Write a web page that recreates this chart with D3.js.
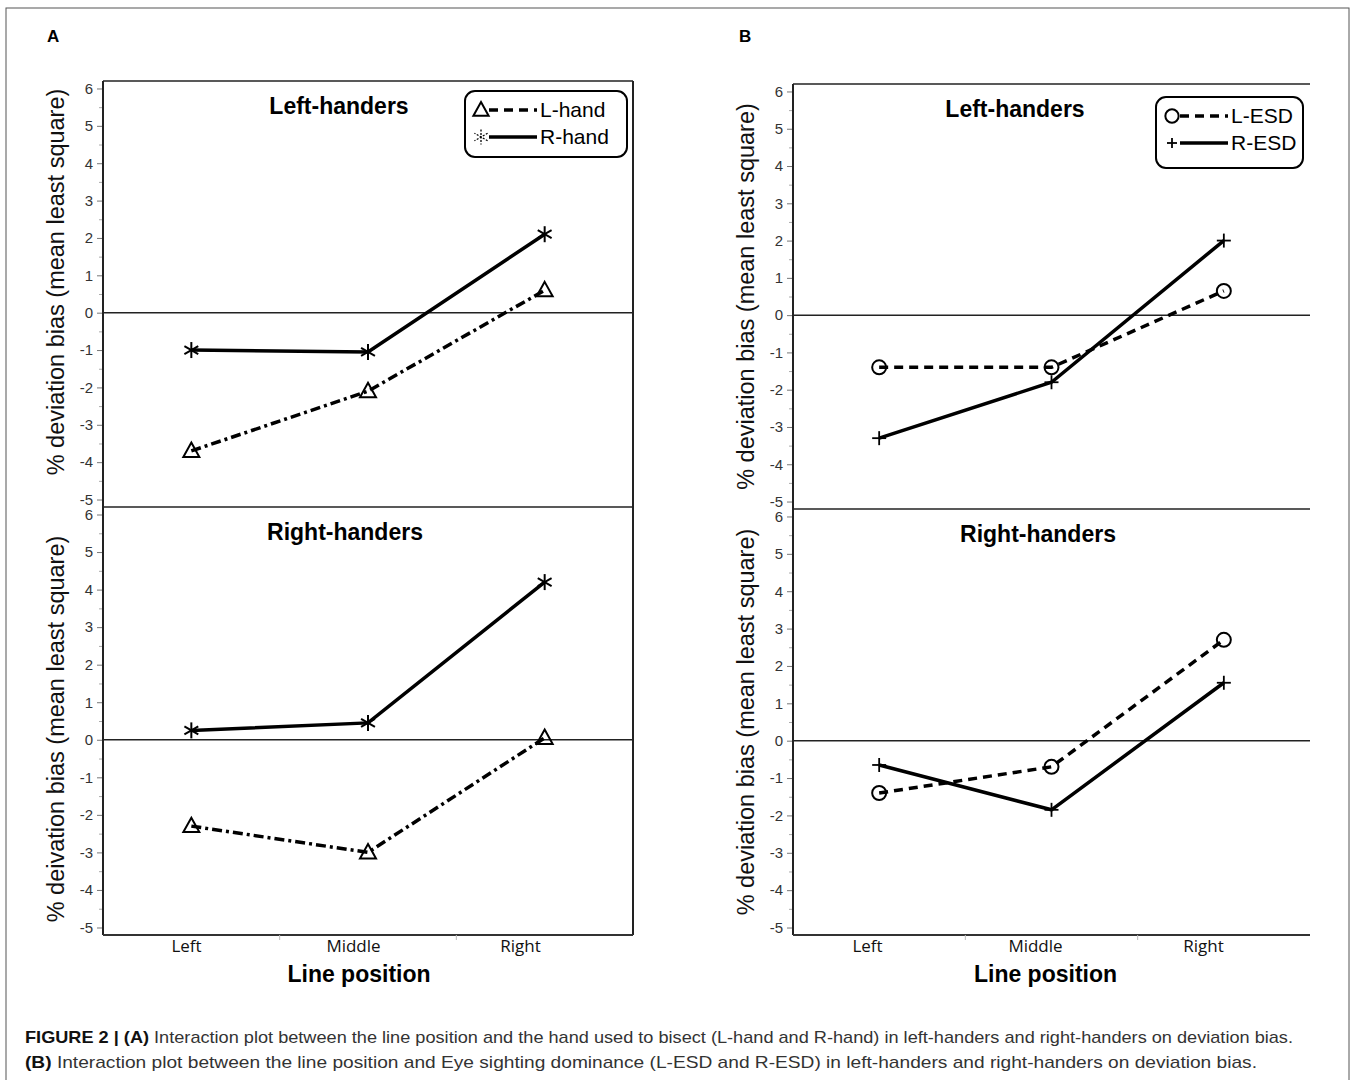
<!DOCTYPE html>
<html>
<head>
<meta charset="utf-8">
<script src="https://cdn.jsdelivr.net/npm/d3@7"></script>
<style>
  body { margin: 0; background: #fff; }
  svg { display: block; font-family: "Liberation Sans", Arial, sans-serif; }
</style>
</head>
<body>
<div id="chart"></div>
<script>
// categories and ticks
const positions = ["Left", "Middle", "Right"];
const yTicks = [-5, -4, -3, -2, -1, 0, 1, 2, 3, 4, 5, 6];
const yMinor = [-4.5, -3.5, -2.5, -1.5, -0.5, 0.5, 1.5, 2.5, 3.5, 4.5, 5.5];

// panel A : hand used to bisect
const aLeftHandersLHand = [-3.7, -2.1, 0.6];
const aLeftHandersRHand = [-1.0, -1.05, 2.1];
const aRightHandersLHand = [-2.3, -3.0, 0.05];
const aRightHandersRHand = [0.25, 0.45, 4.2];

// panel B : eye sighting dominance
const bLeftHandersLESD = [-1.4, -1.4, 0.65];
const bLeftHandersRESD = [-3.3, -1.8, 2.0];
const bRightHandersLESD = [-1.4, -0.7, 2.7];
const bRightHandersRESD = [-0.65, -1.85, 1.55];

const W = 1355, H = 1080;
const svg = d3.select("#chart").append("svg").attr("width", W).attr("height", H);

// outer frame
svg.append("rect").attr("x", 6).attr("y", 8).attr("width", 1343).attr("height", 1090)
  .attr("fill", "none").attr("stroke", "#555").attr("stroke-width", 1);

svg.append("text").text("A").attr("x", 47).attr("y", 42)
  .style("font-weight", "bold").style("font-size", "17px");
svg.append("text").text("B").attr("x", 739).attr("y", 42)
  .style("font-weight", "bold").style("font-size", "17px");

// marker drawing
function drawMarker(g, type, cx, cy, small) {
  const s = small ? 0.95 : 1;
  if (type == "triangle") {
    const r = 8 * s;
    g.append("path")
      .attr("d", `M${cx},${cy - r * 1.05}L${cx + r},${cy + r * 0.75}L${cx - r},${cy + r * 0.75}Z`)
      .attr("fill", "none").attr("stroke", "#000").attr("stroke-width", 2);
  } else if (type == "asterisk") {
    const r = 8 * s;
    for (let k = 0; k < 3; k++) {
      const a = Math.PI / 2 + k * Math.PI / 3;
      g.append("line")
        .attr("x1", cx - r * Math.cos(a)).attr("y1", cy - r * Math.sin(a))
        .attr("x2", cx + r * Math.cos(a)).attr("y2", cy + r * Math.sin(a))
        .attr("stroke", "#000").attr("stroke-width", small ? 1.3 : 2)
        .style("stroke-dasharray", small ? "2,1.5" : null);
    }
  } else if (type == "circle") {
    g.append("circle").attr("cx", cx).attr("cy", cy).attr("r", 7 * s)
      .attr("fill", "none").attr("stroke", "#000").attr("stroke-width", 2);
  } else if (type == "plus") {
    const r = (small ? 5 : 7);
    g.append("line").attr("x1", cx - r).attr("y1", cy).attr("x2", cx + r).attr("y2", cy)
      .attr("stroke", "#000").attr("stroke-width", 1.8);
    g.append("line").attr("x1", cx).attr("y1", cy - r).attr("x2", cx).attr("y2", cy + r)
      .attr("stroke", "#000").attr("stroke-width", 1.8);
  }
}

// one sub panel (left-handers or right-handers)
function drawPanel(p) {
  const g = svg.append("g");
  const x = d3.scaleBand().domain(positions).range([p.left, p.right]);
  const y = d3.scaleLinear().domain([-5.2, 6.2]).range([p.bottom, p.top]);

  // axes
  const ax = g.append("g").attr("transform", `translate(${p.left},0)`)
    .call(d3.axisLeft(y).tickValues(yTicks).tickSize(6).tickPadding(4).tickFormat(d => String(d)));
  ax.select(".domain").remove();
  ax.selectAll(".tick line").attr("stroke", "#777");
  ax.selectAll(".tick text").attr("fill", "#333")
    .style("font-size", "15px").style("font-family", "'Liberation Sans', Arial, sans-serif");
  const am = g.append("g").attr("transform", `translate(${p.left},0)`)
    .call(d3.axisLeft(y).tickValues(yMinor).tickSize(4).tickFormat(""));
  am.select(".domain").remove();
  am.selectAll(".tick line").attr("stroke", "#aaa");

  // frame
  g.append("line").attr("x1", p.left).attr("x2", p.left).attr("y1", p.top).attr("y2", p.bottom)
    .attr("stroke", "#222").attr("stroke-width", 2);
  g.append("line").attr("x1", p.left).attr("x2", p.right).attr("y1", p.top).attr("y2", p.top)
    .attr("stroke", "#222").attr("stroke-width", 1.5);
  if (p.frameRight) {
    g.append("line").attr("x1", p.right).attr("x2", p.right).attr("y1", p.top).attr("y2", p.bottom)
      .attr("stroke", "#222").attr("stroke-width", 2);
  }

  // zero line
  g.append("line").attr("x1", p.left).attr("x2", p.right).attr("y1", y(0)).attr("y2", y(0))
    .attr("stroke", "#222").attr("stroke-width", 1.5);

  // x axis at bottom panel only
  if (p.xAxis) {
    g.append("line").attr("x1", p.left).attr("x2", p.right).attr("y1", p.bottom).attr("y2", p.bottom)
      .attr("stroke", "#333").attr("stroke-width", 2);
    positions.slice(1).forEach(d => {
      g.append("line").attr("x1", x(d)).attr("x2", x(d)).attr("y1", p.bottom).attr("y2", p.bottom + 5)
        .attr("stroke", "#bbb");
    });
    // category labels sit a little left of the band centres in the original
    const xl = d3.scalePoint().domain(positions).range(p.labelRange);
    const xa = g.append("g").attr("transform", `translate(0,${p.bottom})`)
      .call(d3.axisBottom(xl).tickSize(0).tickPadding(5));
    xa.select(".domain").remove();
    xa.selectAll(".tick text").attr("fill", "#111")
      .style("font-size", "17px").style("font-family", "'Open Sans', 'Noto Sans', sans-serif");
    g.append("text").text("Line position")
      .attr("x", (p.left + p.right) / 2 + p.xlabelDx).attr("y", p.bottom + 47)
      .attr("text-anchor", "middle").style("font-weight", "bold").style("font-size", "23px");
  }

  // y label
  g.append("text").text(p.ylabel)
    .attr("transform", `translate(${p.left - 39},${(p.top + p.bottom) / 2 + p.ylabelDy}) rotate(-90)`)
    .attr("text-anchor", "middle").style("font-size", "23.5px").attr("fill", "#111");

  // title
  g.append("text").text(p.title).attr("x", p.titleX).attr("y", p.top + 33)
    .attr("text-anchor", "middle").style("font-weight", "bold").style("font-size", "23px");

  // series
  p.series.forEach(s => {
    const line = d3.line().x((d, i) => x(positions[i]) + x.bandwidth() / 2).y(d => y(d));
    g.append("path").datum(s.values).attr("d", line)
      .attr("fill", "none").attr("stroke", "#000").attr("stroke-width", 3.5)
      .style("stroke-dasharray", s.dash);
    s.values.forEach((v, i) => {
      drawMarker(g, s.marker, x(positions[i]) + x.bandwidth() / 2, y(v), false);
    });
  });
}

// legend box
function drawLegend(lx, ly, lw, lh, items) {
  const g = svg.append("g");
  g.append("rect").attr("x", lx).attr("y", ly).attr("width", lw).attr("height", lh)
    .attr("rx", 10).attr("fill", "#fff").attr("stroke", "#000").attr("stroke-width", 2);
  items.forEach((it, i) => {
    const cy = ly + 19 + i * 27;
    drawMarker(g, it.marker, lx + 16, cy, true);
    g.append("line").attr("x1", lx + 24).attr("x2", lx + 72).attr("y1", cy).attr("y2", cy)
      .attr("stroke", "#000").attr("stroke-width", 3.5).style("stroke-dasharray", it.dash);
    g.append("text").text(it.label).attr("x", lx + 75).attr("y", cy + 7)
      .style("font-size", "21px");
  });
}

const dashDot = "10,4,3,4";
const dashed = "9,6";

// panel A
drawPanel({left: 103, right: 633, top: 81, bottom: 507, title: "Left-handers", titleX: 339,
  ylabel: "% deviation bias (mean least square)", ylabelDy: -12, frameRight: true,
  series: [
    {values: aLeftHandersLHand, marker: "triangle", dash: dashDot},
    {values: aLeftHandersRHand, marker: "asterisk", dash: null}
  ]});
drawPanel({left: 103, right: 633, top: 507, bottom: 935, title: "Right-handers", titleX: 345,
  ylabel: "% deivation bias (mean least square)", ylabelDy: 8, frameRight: true, xAxis: true,
  xlabelDx: -9, labelRange: [186, 520],
  series: [
    {values: aRightHandersLHand, marker: "triangle", dash: dashDot},
    {values: aRightHandersRHand, marker: "asterisk", dash: null}
  ]});
drawLegend(465, 91, 162, 66, [
  {marker: "triangle", dash: dashed, label: "L-hand"},
  {marker: "asterisk", dash: null, label: "R-hand"}
]);

// panel B
drawPanel({left: 793, right: 1310, top: 84, bottom: 509, title: "Left-handers", titleX: 1015,
  ylabel: "% deviation bias (mean least square)", ylabelDy: 0, frameRight: false,
  series: [
    {values: bLeftHandersLESD, marker: "circle", dash: dashed},
    {values: bLeftHandersRESD, marker: "plus", dash: null}
  ]});
drawPanel({left: 793, right: 1310, top: 509, bottom: 935, title: "Right-handers", titleX: 1038,
  ylabel: "% deviation bias (mean least square)", ylabelDy: 0, frameRight: false, xAxis: true,
  xlabelDx: -6, labelRange: [867, 1203],
  series: [
    {values: bRightHandersLESD, marker: "circle", dash: dashed},
    {values: bRightHandersRESD, marker: "plus", dash: null}
  ]});
drawLegend(1156, 97, 147, 71, [
  {marker: "circle", dash: dashed, label: "L-ESD"},
  {marker: "plus", dash: null, label: "R-ESD"}
]);

// caption
const cap = svg.append("g").style("font-family", "'Liberation Sans Narrow', 'Liberation Sans', Arial, sans-serif")
  .style("font-size", "17px").attr("fill", "#333");
const c1 = cap.append("text").attr("x", 25).attr("y", 1043)
  .attr("textLength", 1268).attr("lengthAdjust", "spacingAndGlyphs");
c1.append("tspan").text("FIGURE 2 | (A)").style("font-weight", "bold").attr("fill", "#111");
c1.append("tspan").text(" Interaction plot between the line position and the hand used to bisect (L-hand and R-hand) in left-handers and right-handers on deviation bias.");
const c2 = cap.append("text").attr("x", 25).attr("y", 1068)
  .attr("textLength", 1232).attr("lengthAdjust", "spacingAndGlyphs");
c2.append("tspan").text("(B)").style("font-weight", "bold").attr("fill", "#111");
c2.append("tspan").text(" Interaction plot between the line position and Eye sighting dominance (L-ESD and R-ESD) in left-handers and right-handers on deviation bias.");
</script>
</body>
</html>
